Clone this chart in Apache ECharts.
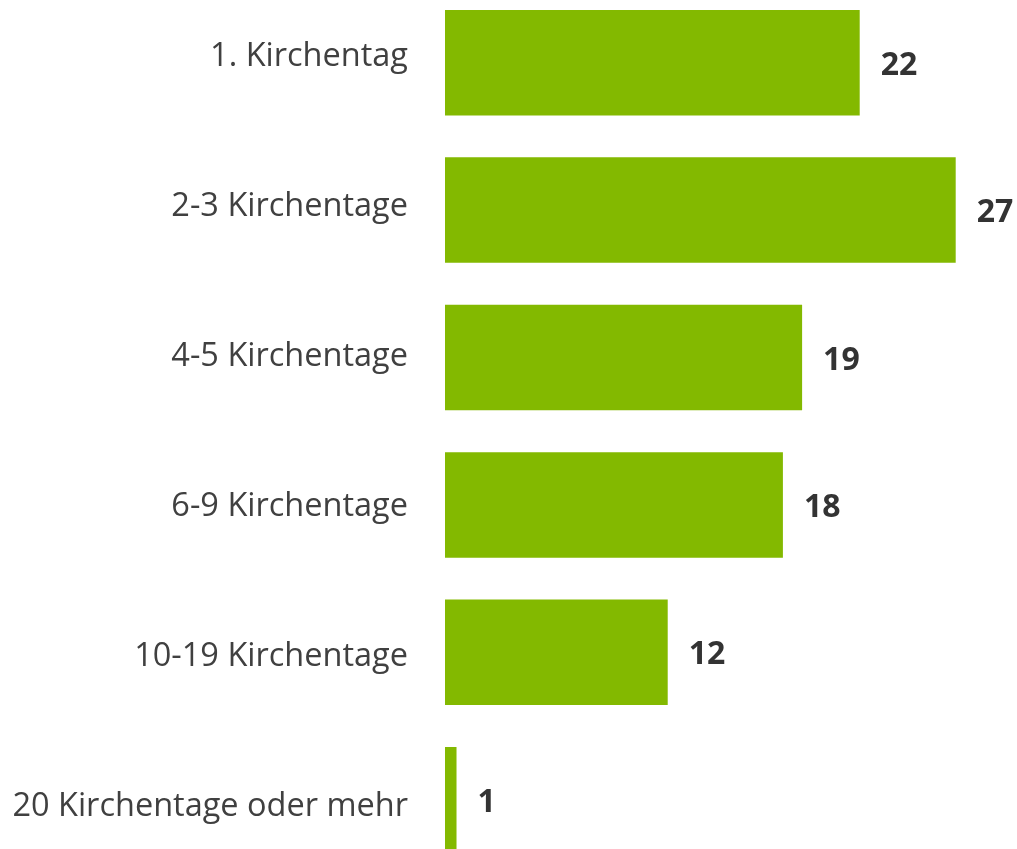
<!DOCTYPE html>
<html><head><meta charset="utf-8">
<script src="https://cdn.jsdelivr.net/npm/echarts@6/dist/echarts.min.js"></script>
<style>html,body{margin:0;padding:0;background:#fff;overflow:hidden;width:1017px;height:849px;position:relative}#c{position:absolute;left:0;top:-20px;width:1017px;height:910px}</style>
</head><body><div id="c"></div>
<script>
const categories = ["1. Kirchentag","2-3 Kirchentage","4-5 Kirchentage","6-9 Kirchentage","10-19 Kirchentage","20 Kirchentage oder mehr"];
const values = [22,27,19,18,12,1];
const chart = echarts.init(document.getElementById('c'));
chart.setOption({
  animation:false,
  grid:[
    {left:445,width:568.3,top:9,height:884.4,containLabel:false},
    {left:445,width:568.3,top:2,height:900,containLabel:false}
  ],
  xAxis:[
    {type:'value',min:0.4,max:30,show:false,gridIndex:0},
    {type:'value',min:0,max:30,show:false,gridIndex:1}
  ],
  yAxis:[
    {type:'category',data:categories,inverse:true,gridIndex:0,
      axisLine:{show:false},axisTick:{show:false},axisLabel:{show:false}},
    {type:'category',data:categories,inverse:true,gridIndex:1,
      axisLine:{show:false},axisTick:{show:false},splitLine:{show:false},
      axisLabel:{margin:37,fontFamily:'Open Sans',fontSize:32.5,color:'#404040'}}
  ],
  series:[{type:'bar',data:values,barCategoryGap:'28.4%',clip:true,xAxisIndex:0,yAxisIndex:0,
    itemStyle:{color:'#83B900'},
    label:{show:true,position:'right',distance:21,offset:[0,3],fontFamily:'Open Sans',fontWeight:'bold',fontSize:32,color:'#333333'}}]
});
</script></body></html>
